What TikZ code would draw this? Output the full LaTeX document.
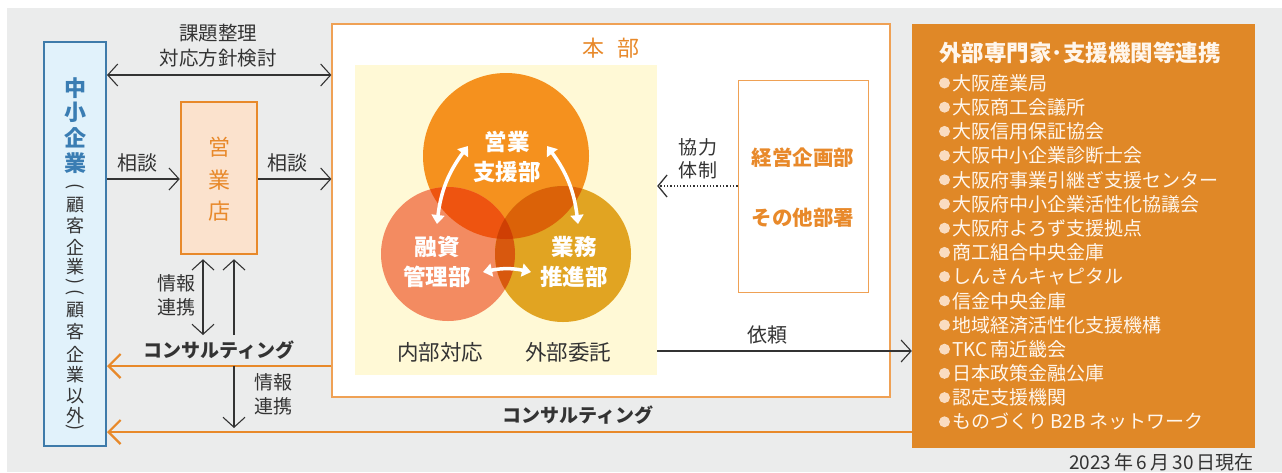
\documentclass[tikz,border=0pt]{standalone}
\usepackage{fontspec}
\setmainfont{Noto Sans CJK JP}
\usetikzlibrary{arrows.meta,calc}
\definecolor{bg}{HTML}{EBECEC}
\definecolor{bluef}{HTML}{E1F2FB}
\definecolor{blueb}{HTML}{3E7BAA}
\definecolor{bluet}{HTML}{3A7DB3}
\definecolor{txt}{HTML}{333333}
\definecolor{org}{HTML}{E8892A}
\definecolor{shopf}{HTML}{FBE2CD}
\definecolor{hqb}{HTML}{EFA155}
\definecolor{yel}{HTML}{FFF9D6}
\definecolor{cTop}{HTML}{F5911E}
\definecolor{cLeft}{HTML}{F38B61}
\definecolor{cRight}{HTML}{E1A422}
\definecolor{cTL}{HTML}{EE5410}
\definecolor{cTR}{HTML}{DB6208}
\definecolor{cLR}{HTML}{D8580E}
\definecolor{cC}{HTML}{CF3F04}
\definecolor{extf}{HTML}{E08827}
\definecolor{bul}{HTML}{FADCC0}
\definecolor{itemt}{HTML}{FFF6EC}
\newcommand\myfs[2]{\fontsize{#1}{#2}\selectfont}
\begin{document}
\begin{tikzpicture}[x=1pt,y=-1pt,
  lbl/.style={text=txt, font=\myfs{19}{24}, align=center, inner sep=0pt},
  blbl/.style={lbl, font=\myfs{19}{24}\bfseries},
  arr/.style={draw=txt, line width=1.1pt, -{Straight Barb[length=10pt,width=22pt]}},
  darr/.style={draw=txt, line width=1.1pt, {Straight Barb[length=10pt,width=22pt]}-{Straight Barb[length=10pt,width=22pt]}},
  oarr/.style={draw=org, line width=2.2pt, -{Straight Barb[length=12pt,width=24pt]}},
  warr/.style={draw=white, line width=3.5pt, {Triangle[length=9pt,width=13pt]}-{Triangle[length=9pt,width=13pt]}},
  ctext/.style={text=white, font=\myfs{22.5}{30}\bfseries, align=center, inner sep=0pt},
  item/.style={text=itemt, font=\myfs{19}{24}, inner sep=0pt},
  vch/.style={text=txt, font=\myfs{18}{20}, inner sep=0pt},
  vpar/.style={text=txt, font=\myfs{18}{20}, inner sep=0pt, rotate=-90},
  vbl/.style={text=bluet, font=\myfs{22}{24}\bfseries, inner sep=0pt}]
\useasboundingbox (0,0) rectangle (1282,472);
\fill[bg] (7,8) rectangle (1282,472);

% boxes
\node[draw=blueb, line width=2pt, fill=bluef, minimum width=62, minimum height=404, inner sep=0pt] (smb) at (75,244) {};
\node[draw=org, line width=2.5pt, fill=shopf, minimum width=76, minimum height=152, inner sep=0pt] (shop) at (219,178) {};
\node[draw=hqb, line width=1.2pt, fill=white, minimum width=558, minimum height=373, inner sep=0pt] (hq) at (611,210.5) {};
\node[fill=yel, minimum width=302, minimum height=310, inner sep=0pt] (yl) at (506,220) {};
\node[draw=hqb, line width=1pt, fill=white, minimum width=130, minimum height=212, inner sep=0pt] (plan) at (803,186) {};
\node[fill=extf, minimum width=343, minimum height=424, inner sep=0pt] (ext) at (1083.5,236) {};

% vertical text in left box
\foreach \c/\y [count=\i] in {中/88, 小/112, 企/138, 業/163}
  \node[vbl] (vb\i) at (75,\y) {\c};
\foreach \c/\y [count=\i] in {顧/205, 客/226, 企/247, 業/267, 顧/310, 客/332, 企/354, 業/375, 以/396, 外/416}
  \node[vch] (vg\i) at (75,\y) {\c};
\node[vpar] (vp1) at (75,187) {(};
\node[vpar] (vp2) at (75,282) {)};
\node[vpar] (vp3) at (75,293) {(};
\node[vpar] (vp4) at (75,428) {)};

% shop text
\foreach \c/\y [count=\i] in {営/147, 業/180, 店/211}
  \node[text=org, font=\myfs{22}{24}, inner sep=0pt] (sh\i) at (219,\y) {\c};

% circles
\fill[cTop] (506,156) circle (83pt);
\fill[cLeft] (448,254) circle (67pt);
\fill[cRight] (563,254) circle (68pt);
\begin{scope}
  \clip (506,156) circle (83pt);
  \fill[cTL] (448,254) circle (67pt);
  \fill[cTR] (563,254) circle (68pt);
\end{scope}
\begin{scope}
  \clip (448,254) circle (67pt);
  \fill[cLR] (563,254) circle (68pt);
  \clip (506,156) circle (83pt);
  \fill[cC] (563,254) circle (68pt);
\end{scope}
\node[ctext] (eig) at (507,157) {営業\\支援部};
\node[ctext] (yus) at (437,262) {融資\\管理部};
\node[ctext] (gyo) at (574,262) {業務\\推進部};
\coordinate (w1) at (468,146);
\coordinate (w2) at (437,224);
\coordinate (w3) at (547,146);
\coordinate (w4) at (578,224);
\coordinate (w5) at (483,272);
\coordinate (w6) at (531,272);
\draw[warr] (w1) to[bend right=15] (w2);
\draw[warr] (w3) to[bend left=15] (w4);
\draw[warr] (w5) to[bend left=12] (w6);

% labels inside HQ
\node[text=org, font=\myfs{22}{24}, inner sep=0pt] (hqt) at (611,48) {本\hspace{0.6em}部};
\node[lbl, font=\myfs{21.5}{24}] (naibu) at (440,352) {内部対応};
\node[lbl, font=\myfs{21.5}{24}] (gaibu) at (568,352) {外部委託};
\node[text=org, font=\myfs{20.5}{60}\bfseries, align=center, inner sep=0pt] (plant) at (803,188) {経営企画部\\その他部署};

% arrows
\coordinate (t1) at (0,75);
\draw[darr] (smb.east |- t1) -- (hq.west |- t1);
\node[lbl, font=\myfs{19.5}{25}] (kadai) at (218,45.5) {課題整理\\対応方針検討};
\coordinate (s1) at (0,179);
\draw[arr] (smb.east |- s1) -- (shop.west |- s1);
\draw[arr] (shop.east |- s1) -- (hq.west |- s1);
\node[lbl, font=\myfs{20}{24}] (sd1) at (137,163) {相談};
\node[lbl, font=\myfs{20}{24}] (sd2) at (287,163) {相談};

\coordinate (v1) at (203,335);
\coordinate (v2) at (234,335);
\draw[darr] ($(shop.south -| v1)+(0,4)$) -- (v1);
\draw[arr] (v2) -- ($(shop.south -| v2)+(0,4)$);
\node[lbl] (jh1) at (176,295) {情報\\連携};

\coordinate (o1) at (0,366);
\coordinate (o2) at (0,432);
\draw[oarr] (hq.west |- o1) -- (smb.east |- o1);
\draw[oarr] (ext.west |- o2) -- (smb.east |- o2);
\node[blbl] (con1) at (219,350) {コンサルティング};
\node[blbl] (con2) at (578,415) {コンサルティング};
\coordinate (d1) at (234,366);
\coordinate (d2) at (234,428);
\draw[arr] (d1) -- (d2);
\node[lbl] (jh2) at (273,394) {情報\\連携};

\draw[draw=txt, line width=1.3pt, dotted, -{Straight Barb[length=9pt,width=22pt]}] (plan.west) -- (yl.east |- plan.west);
\node[lbl, font=\myfs{19}{23}] (kyo) at (698,158.5) {協\hspace{0.1em}力\\体\hspace{0.1em}制};
\coordinate (r1) at (0,351);
\draw[arr] (yl.east |- r1) -- (ext.west |- r1);
\node[lbl, font=\myfs{20}{24}] (irai) at (767,335) {依頼};

% external list
\node[text=itemt, font=\myfs{22.5}{24}\bfseries, inner sep=0pt] (extt) at (1080,53) {外部専門家･支援機関等連携};
\foreach \t [count=\i from 0] in {大阪産業局, 大阪商工会議所, 大阪信用保証協会, 大阪中小企業診断士会, 大阪府事業引継ぎ支援センター, 大阪府中小企業活性化協議会, 大阪府よろず支援拠点, 商工組合中央金庫, しんきんキャピタル, 信金中央金庫, 地域経済活性化支援機構, TKC\,南近畿会, 日本政策金融公庫, 認定支援機関, ものづくり\,B2B\,ネットワーク} {
  \pgfmathsetmacro\yy{83+24.2*\i}
  \fill[bul] (944.5,\yy) circle (5.5pt);
  \node[item, anchor=west] (it\i) at (952,\yy) {\t};
}
\node[text=txt, font=\myfs{19}{20}, anchor=east, inner sep=0pt] (date) at (1254,462) {2023\,年\,6\,月\,30\,日現在};
\end{tikzpicture}
\end{document}
